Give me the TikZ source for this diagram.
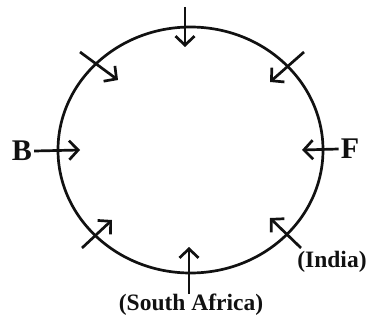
\documentclass[tikz,border=0pt]{standalone}
\usepackage{fontspec}
\setmainfont{Liberation Serif}
\usetikzlibrary{shapes.geometric, arrows.meta, positioning}
\definecolor{SeatBlack}{HTML}{111111}
\tikzset{
    % Table and seat arrows
    tablering/.style={
        ellipse,
        draw=SeatBlack,
        line width=2.7pt,
        minimum width=265pt,
        minimum height=246pt
    },
    facearrow/.style={
        -{Straight Barb[length=9pt,width=19pt,line width=2.7pt]},
        line width=2.7pt,
        SeatBlack
    },
    % Label styles
    biglabel/.style={
        inner sep=0pt,
        font=\fontsize{30}{32}\selectfont\bfseries,
        text=SeatBlack
    },
    namelabel/.style={
        inner sep=0pt,
        font=\fontsize{23.5}{25}\selectfont\bfseries,
        text=SeatBlack
    }
}
\begin{document}
\begin{tikzpicture}[x=1pt,y=-1pt]
    \useasboundingbox (0,0) rectangle (370,321);

    % Table
    \node[tablering] (ring) at (190.5,150) {};

    % Labels
    \node[biglabel] (b) at (22,151) {B};
    \node[biglabel] (f) at (350,149) {F};
    \node[namelabel] (india) at (332,262) {(India)};
    \node[namelabel] (safrica) at (191,305) {(South Africa)};

    % Arrow ends
    \coordinate (topout) at (185,7);
    \coordinate (topin) at (185,47);
    \coordinate (bin) at (80,150);
    \coordinate (fin) at (302,150);
    \coordinate (botout) at (189,294);
    \coordinate (botin) at (189,247);
    \coordinate (tlout) at (80,52);
    \coordinate (tlin) at (118,80);
    \coordinate (trout) at (304,52);
    \coordinate (trin) at (270,82);
    \coordinate (blout) at (82,248);
    \coordinate (blin) at (112,220);
    \coordinate (brout) at (301,248);
    \coordinate (brin) at (270,218);

    % Arrows
    \draw[facearrow] (topout) -- (topin);
    \draw[facearrow] (b.east) ++(2,0) -- (bin);
    \draw[facearrow] (f.west) ++(-2,0) -- (fin);
    \draw[facearrow] (botout) -- (botin);
    \draw[facearrow] (tlout) -- (tlin);
    \draw[facearrow] (trout) -- (trin);
    \draw[facearrow] (blout) -- (blin);
    \draw[facearrow] (brout) -- (brin);
\end{tikzpicture}
\end{document}
